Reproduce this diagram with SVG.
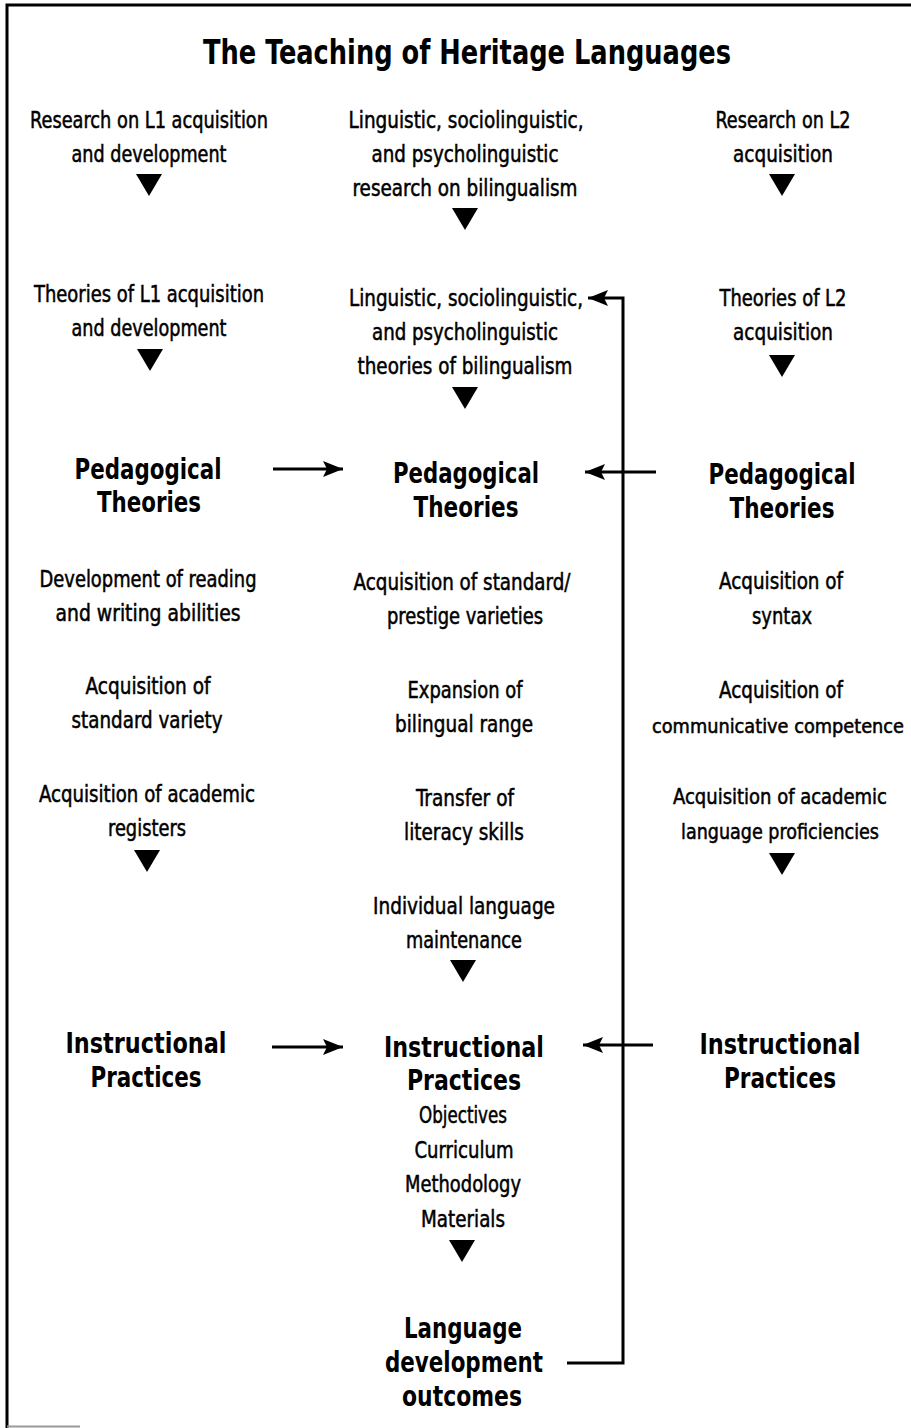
<svg xmlns="http://www.w3.org/2000/svg" width="911" height="1428" viewBox="0 0 911 1428">
<style>
text{font-family:"DejaVu Sans Condensed","Liberation Sans Narrow","Liberation Sans",sans-serif;fill:#000;text-anchor:middle}
.r{font-size:23px;stroke:#000;stroke-width:0.5}
.s{font-size:21px}
.xs{font-size:19px}
.b{font-size:28px;font-weight:bold}
.t{font-size:33px;font-weight:bold}
.ln{stroke:#000;stroke-width:3;fill:none}
.tri{fill:#000}
</style>
<defs>
<marker id="ah" markerUnits="userSpaceOnUse" markerWidth="22" markerHeight="18" refX="20" refY="9" orient="auto">
<path d="M0,1 L20,9 L0,17 L4,9 Z" fill="#000"/>
</marker>
</defs>
<rect width="911" height="1428" fill="#fff"/>
<g id="frame">
<path d="M7,1428 V5 H911" stroke="#000" stroke-width="3" fill="none"/>
<path d="M7,1426.5 H80" stroke="#999" stroke-width="2"/>
</g>
<g id="title"><text class="t" x="467" y="64" textLength="528" lengthAdjust="spacingAndGlyphs">The Teaching of Heritage Languages</text></g>

<g id="l1-research">
<text class="r" x="149" y="128" textLength="238" lengthAdjust="spacingAndGlyphs">Research on L1 acquisition</text>
<text class="r" x="149" y="162" textLength="155" lengthAdjust="spacingAndGlyphs">and development</text>
</g>
<g id="bil-research">
<text class="r" x="466" y="128" textLength="235" lengthAdjust="spacingAndGlyphs">Linguistic, sociolinguistic,</text>
<text class="r" x="465" y="162" textLength="187" lengthAdjust="spacingAndGlyphs">and psycholinguistic</text>
<text class="r" x="465" y="196" textLength="225" lengthAdjust="spacingAndGlyphs">research on bilingualism</text>
</g>
<g id="l2-research">
<text class="r" x="783" y="128" textLength="135" lengthAdjust="spacingAndGlyphs">Research on L2</text>
<text class="r" x="783" y="162" textLength="100" lengthAdjust="spacingAndGlyphs">acquisition</text>
</g>

<g id="l1-theories">
<text class="r" x="149" y="302" textLength="230" lengthAdjust="spacingAndGlyphs">Theories of L1 acquisition</text>
<text class="r" x="149" y="336" textLength="155" lengthAdjust="spacingAndGlyphs">and development</text>
</g>
<g id="bil-theories">
<text class="r" x="466" y="306" textLength="234" lengthAdjust="spacingAndGlyphs">Linguistic, sociolinguistic,</text>
<text class="r" x="465" y="340" textLength="186" lengthAdjust="spacingAndGlyphs">and psycholinguistic</text>
<text class="r" x="465" y="374" textLength="215" lengthAdjust="spacingAndGlyphs">theories of bilingualism</text>
</g>
<g id="l2-theories">
<text class="r" x="783" y="306" textLength="127" lengthAdjust="spacingAndGlyphs">Theories of L2</text>
<text class="r" x="783" y="340" textLength="100" lengthAdjust="spacingAndGlyphs">acquisition</text>
</g>

<g id="ped-left">
<text class="b" x="148" y="479" textLength="147" lengthAdjust="spacingAndGlyphs">Pedagogical</text>
<text class="b" x="149" y="512" textLength="104" lengthAdjust="spacingAndGlyphs">Theories</text>
</g>
<g id="ped-mid">
<text class="b" x="466" y="483" textLength="146" lengthAdjust="spacingAndGlyphs">Pedagogical</text>
<text class="b" x="466" y="517" textLength="105" lengthAdjust="spacingAndGlyphs">Theories</text>
</g>
<g id="ped-right">
<text class="b" x="782" y="484" textLength="147" lengthAdjust="spacingAndGlyphs">Pedagogical</text>
<text class="b" x="782" y="518" textLength="105" lengthAdjust="spacingAndGlyphs">Theories</text>
</g>

<g id="left-goals">
<text class="r" x="148" y="587" textLength="217" lengthAdjust="spacingAndGlyphs">Development of reading</text>
<text class="r" x="148" y="621" textLength="185" lengthAdjust="spacingAndGlyphs">and writing abilities</text>
<text class="r" x="148" y="694" textLength="125" lengthAdjust="spacingAndGlyphs">Acquisition of</text>
<text class="r" x="147" y="728" textLength="151" lengthAdjust="spacingAndGlyphs">standard variety</text>
<text class="r" x="147" y="802" textLength="216" lengthAdjust="spacingAndGlyphs">Acquisition of academic</text>
<text class="r" x="147" y="836" textLength="78" lengthAdjust="spacingAndGlyphs">registers</text>
</g>
<g id="mid-goals">
<text class="r" x="462" y="590" textLength="217" lengthAdjust="spacingAndGlyphs">Acquisition of standard/</text>
<text class="r" x="465" y="624" textLength="156" lengthAdjust="spacingAndGlyphs">prestige varieties</text>
<text class="r" x="465" y="698" textLength="115" lengthAdjust="spacingAndGlyphs">Expansion of</text>
<text class="r" x="464" y="732" textLength="138" lengthAdjust="spacingAndGlyphs">bilingual range</text>
<text class="r" x="465" y="806" textLength="98" lengthAdjust="spacingAndGlyphs">Transfer of</text>
<text class="r" x="464" y="840" textLength="120" lengthAdjust="spacingAndGlyphs">literacy skills</text>
<text class="r" x="464" y="914" textLength="182" lengthAdjust="spacingAndGlyphs">Individual language</text>
<text class="r" x="464" y="948" textLength="116" lengthAdjust="spacingAndGlyphs">maintenance</text>
</g>
<g id="right-goals">
<text class="r" x="781" y="589" textLength="124" lengthAdjust="spacingAndGlyphs">Acquisition of</text>
<text class="r" x="782" y="624" textLength="60" lengthAdjust="spacingAndGlyphs">syntax</text>
<text class="r" x="781" y="698" textLength="124" lengthAdjust="spacingAndGlyphs">Acquisition of</text>
<text class="r xs" x="778" y="733" textLength="252" lengthAdjust="spacingAndGlyphs">communicative competence</text>
<text class="r s" x="780" y="804" textLength="214" lengthAdjust="spacingAndGlyphs">Acquisition of academic</text>
<text class="r s" x="780" y="839" textLength="198" lengthAdjust="spacingAndGlyphs">language proficiencies</text>
</g>

<g id="instr-left">
<text class="b" x="146" y="1053" textLength="161" lengthAdjust="spacingAndGlyphs">Instructional</text>
<text class="b" x="146" y="1087" textLength="111" lengthAdjust="spacingAndGlyphs">Practices</text>
</g>
<g id="instr-mid">
<text class="b" x="464" y="1057" textLength="160" lengthAdjust="spacingAndGlyphs">Instructional</text>
<text class="b" x="464" y="1090" textLength="114" lengthAdjust="spacingAndGlyphs">Practices</text>
<text class="r" x="463" y="1123" textLength="88" lengthAdjust="spacingAndGlyphs">Objectives</text>
<text class="r" x="464" y="1158" textLength="99" lengthAdjust="spacingAndGlyphs">Curriculum</text>
<text class="r" x="463" y="1192" textLength="116" lengthAdjust="spacingAndGlyphs">Methodology</text>
<text class="r" x="463" y="1227" textLength="84" lengthAdjust="spacingAndGlyphs">Materials</text>
</g>
<g id="instr-right">
<text class="b" x="780" y="1054" textLength="161" lengthAdjust="spacingAndGlyphs">Instructional</text>
<text class="b" x="780" y="1088" textLength="112" lengthAdjust="spacingAndGlyphs">Practices</text>
</g>
<g id="outcomes">
<text class="b" x="463" y="1338" textLength="118" lengthAdjust="spacingAndGlyphs">Language</text>
<text class="b" x="464" y="1372" textLength="158" lengthAdjust="spacingAndGlyphs">development</text>
<text class="b" x="462" y="1406" textLength="120" lengthAdjust="spacingAndGlyphs">outcomes</text>
</g>

<g id="connectors">
<path class="tri" d="M136,174 H162 L149,196 Z"/>
<path class="tri" d="M452,208 H478 L465,230 Z"/>
<path class="tri" d="M769,174 H795 L782,196 Z"/>
<path class="tri" d="M137,349 H163 L150,371 Z"/>
<path class="tri" d="M452,387 H478 L465,409 Z"/>
<path class="tri" d="M769,355 H795 L782,377 Z"/>
<path class="tri" d="M134,850 H160 L147,872 Z"/>
<path class="tri" d="M769,853 H795 L782,875 Z"/>
<path class="tri" d="M450,960 H476 L463,982 Z"/>
<path class="tri" d="M449,1240 H475 L462,1262 Z"/>
<path class="ln" d="M273,469 H343" marker-end="url(#ah)"/>
<path class="ln" d="M656,472 H585" marker-end="url(#ah)"/>
<path class="ln" d="M272,1047 H343" marker-end="url(#ah)"/>
<path class="ln" d="M653,1045 H583" marker-end="url(#ah)"/>
<path class="ln" d="M567,1363 H623 V298 H588" marker-end="url(#ah)"/>
</g>
</svg>
